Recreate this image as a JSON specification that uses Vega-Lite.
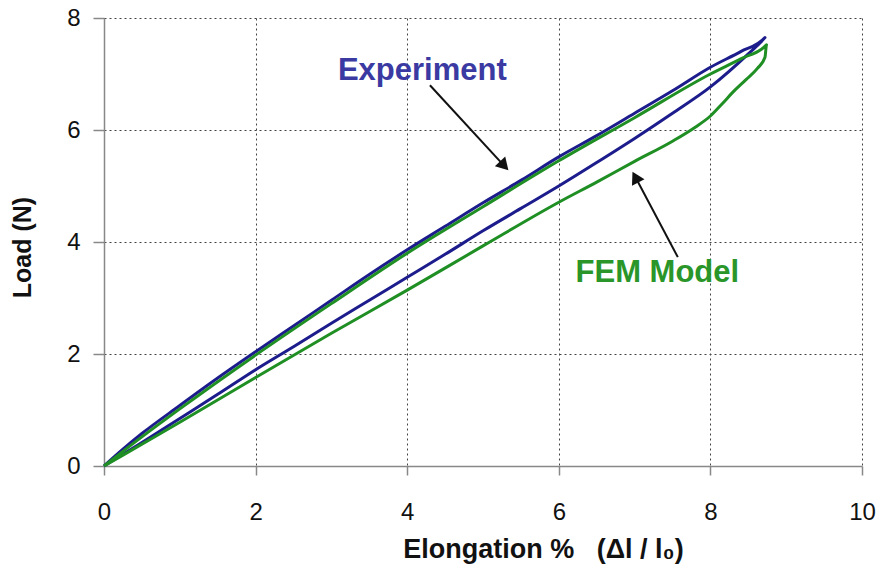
{
  "$schema": "https://vega.github.io/schema/vega-lite/v6.json",
  "autosize": "none",
  "width": 758,
  "height": 448,
  "padding": {"left": 104, "top": 18, "right": 20, "bottom": 112},
  "background": "white",
  "config": {"view": {"stroke": null}, "font": "Liberation Sans"},
  "datasets": {
    "curves": [
      {"s": "Experiment", "i": 0, "x": 0, "y": 0},
      {"s": "Experiment", "i": 1, "x": 0.25, "y": 0.3},
      {"s": "Experiment", "i": 2, "x": 0.5, "y": 0.58},
      {"s": "Experiment", "i": 3, "x": 1, "y": 1.08},
      {"s": "Experiment", "i": 4, "x": 1.5, "y": 1.57},
      {"s": "Experiment", "i": 5, "x": 2, "y": 2.04},
      {"s": "Experiment", "i": 6, "x": 2.5, "y": 2.5},
      {"s": "Experiment", "i": 7, "x": 3, "y": 2.96},
      {"s": "Experiment", "i": 8, "x": 3.5, "y": 3.42},
      {"s": "Experiment", "i": 9, "x": 4, "y": 3.86},
      {"s": "Experiment", "i": 10, "x": 4.5, "y": 4.28},
      {"s": "Experiment", "i": 11, "x": 5, "y": 4.7},
      {"s": "Experiment", "i": 12, "x": 5.5, "y": 5.1},
      {"s": "Experiment", "i": 13, "x": 6, "y": 5.52},
      {"s": "Experiment", "i": 14, "x": 6.5, "y": 5.9},
      {"s": "Experiment", "i": 15, "x": 7, "y": 6.3},
      {"s": "Experiment", "i": 16, "x": 7.5, "y": 6.7},
      {"s": "Experiment", "i": 17, "x": 8, "y": 7.12},
      {"s": "Experiment", "i": 18, "x": 8.4, "y": 7.4},
      {"s": "Experiment", "i": 19, "x": 8.72, "y": 7.65},
      {"s": "Experiment", "i": 20, "x": 8.5, "y": 7.36},
      {"s": "Experiment", "i": 21, "x": 8, "y": 6.77},
      {"s": "Experiment", "i": 22, "x": 7.5, "y": 6.3},
      {"s": "Experiment", "i": 23, "x": 7, "y": 5.85},
      {"s": "Experiment", "i": 24, "x": 6.5, "y": 5.42},
      {"s": "Experiment", "i": 25, "x": 6, "y": 5.0},
      {"s": "Experiment", "i": 26, "x": 5.5, "y": 4.6},
      {"s": "Experiment", "i": 27, "x": 5, "y": 4.2},
      {"s": "Experiment", "i": 28, "x": 4.5, "y": 3.78},
      {"s": "Experiment", "i": 29, "x": 4, "y": 3.37},
      {"s": "Experiment", "i": 30, "x": 3.5, "y": 2.96},
      {"s": "Experiment", "i": 31, "x": 3, "y": 2.55},
      {"s": "Experiment", "i": 32, "x": 2.5, "y": 2.13},
      {"s": "Experiment", "i": 33, "x": 2, "y": 1.72},
      {"s": "Experiment", "i": 34, "x": 1.5, "y": 1.28},
      {"s": "Experiment", "i": 35, "x": 1, "y": 0.85},
      {"s": "Experiment", "i": 36, "x": 0.5, "y": 0.42},
      {"s": "Experiment", "i": 37, "x": 0, "y": 0},
      {"s": "FEM", "i": 0, "x": 0, "y": 0},
      {"s": "FEM", "i": 1, "x": 0.5, "y": 0.52},
      {"s": "FEM", "i": 2, "x": 1, "y": 1.02},
      {"s": "FEM", "i": 3, "x": 2, "y": 1.98},
      {"s": "FEM", "i": 4, "x": 3, "y": 2.9},
      {"s": "FEM", "i": 5, "x": 4, "y": 3.8},
      {"s": "FEM", "i": 6, "x": 5, "y": 4.63},
      {"s": "FEM", "i": 7, "x": 6, "y": 5.45},
      {"s": "FEM", "i": 8, "x": 7, "y": 6.22},
      {"s": "FEM", "i": 9, "x": 8, "y": 7.0},
      {"s": "FEM", "i": 10, "x": 8.4, "y": 7.27},
      {"s": "FEM", "i": 11, "x": 8.74, "y": 7.52},
      {"s": "FEM", "i": 12, "x": 8.72, "y": 7.3},
      {"s": "FEM", "i": 13, "x": 8.62, "y": 7.1},
      {"s": "FEM", "i": 14, "x": 8.47, "y": 6.9},
      {"s": "FEM", "i": 15, "x": 8.3, "y": 6.68},
      {"s": "FEM", "i": 16, "x": 8.15, "y": 6.46},
      {"s": "FEM", "i": 17, "x": 8, "y": 6.25},
      {"s": "FEM", "i": 18, "x": 7.8, "y": 6.05},
      {"s": "FEM", "i": 19, "x": 7.5, "y": 5.8},
      {"s": "FEM", "i": 20, "x": 7, "y": 5.44},
      {"s": "FEM", "i": 21, "x": 6.5, "y": 5.07},
      {"s": "FEM", "i": 22, "x": 6, "y": 4.71},
      {"s": "FEM", "i": 23, "x": 5, "y": 3.93},
      {"s": "FEM", "i": 24, "x": 4, "y": 3.14},
      {"s": "FEM", "i": 25, "x": 3, "y": 2.37},
      {"s": "FEM", "i": 26, "x": 2, "y": 1.58},
      {"s": "FEM", "i": 27, "x": 1, "y": 0.78},
      {"s": "FEM", "i": 28, "x": 0.5, "y": 0.39},
      {"s": "FEM", "i": 29, "x": 0, "y": 0}
    ],
    "labels": [
      {"t": "Experiment", "x": 4.2, "y": 7.05, "c": "#3a3aa2"},
      {"t": "FEM Model", "x": 7.3, "y": 3.45, "c": "#2a962a"}
    ],
    "arrows": [
      {"x": 4.3, "y": 6.8, "x2": 5.28, "y2": 5.36, "a": 137},
      {"x": 7.57, "y": 3.73, "x2": 7.01, "y2": 5.16, "a": 332}
    ]
  },
  "layer": [
    {
      "data": {"name": "curves"},
      "mark": {"type": "line", "strokeWidth": 3, "strokeJoin": "round", "interpolate": "monotone"},
      "encoding": {
        "x": {
          "field": "x", "type": "quantitative",
          "scale": {"domain": [0, 10], "nice": false, "zero": false},
          "axis": {
            "values": [0, 2, 4, 6, 8, 10], "format": "d",
            "title": "Elongation %\u00a0\u00a0 (Δl / l₀)",
            "titleFont": "Liberation Sans", "titleFontSize": 27, "titleFontWeight": "bold", "titleColor": "#111",
            "titleX": 439, "titleY": 83, "titleAlign": "center", "titleBaseline": "middle",
            "labelFont": "Liberation Sans", "labelFontSize": 24, "labelColor": "#111", "labelPadding": 25,
            "labelFlush": false,
            "domainColor": "#888", "domainWidth": 1.5,
            "tickColor": "#888", "tickSize": 9, "tickWidth": 1.5,
            "grid": true, "gridDash": [2, 3], "gridColor": "#444", "gridWidth": 1
          }
        },
        "y": {
          "field": "y", "type": "quantitative",
          "scale": {"domain": [0, 8], "nice": false, "zero": false},
          "axis": {
            "values": [0, 2, 4, 6, 8], "format": "d",
            "title": "Load (N)",
            "titleFont": "Liberation Sans", "titleFontSize": 25, "titleFontWeight": "bold", "titleColor": "#111",
            "titleX": -82, "titleY": 229, "titleAlign": "center", "titleBaseline": "middle", "titleAngle": -90,
            "labelFont": "Liberation Sans", "labelFontSize": 24, "labelColor": "#111", "labelPadding": 13,
            "labelFlush": false,
            "domainColor": "#888", "domainWidth": 1.5,
            "tickColor": "#888", "tickSize": 11, "tickWidth": 1.5,
            "grid": true, "gridDash": [2, 3], "gridColor": "#444", "gridWidth": 1
          }
        },
        "detail": {"field": "s"},
        "order": {"field": "i", "type": "quantitative"},
        "color": {
          "field": "s", "type": "nominal",
          "scale": {"domain": ["Experiment", "FEM"], "range": ["#1c1c8c", "#1f8f24"]},
          "legend": null
        }
      }
    },
    {
      "data": {"name": "arrows"},
      "mark": {"type": "rule", "color": "#111", "strokeWidth": 2},
      "encoding": {
        "x": {"field": "x", "type": "quantitative"},
        "y": {"field": "y", "type": "quantitative"},
        "x2": {"field": "x2"},
        "y2": {"field": "y2"}
      }
    },
    {
      "data": {"name": "arrows"},
      "mark": {"type": "point", "shape": "triangle-up", "filled": true, "color": "#111", "opacity": 1, "size": 200},
      "encoding": {
        "x": {"field": "x2", "type": "quantitative"},
        "y": {"field": "y2", "type": "quantitative"},
        "angle": {"field": "a", "type": "quantitative", "scale": null}
      }
    },
    {
      "data": {"name": "labels"},
      "mark": {"type": "text", "font": "Liberation Sans", "fontSize": 31, "fontWeight": "bold", "align": "center", "baseline": "middle"},
      "encoding": {
        "x": {"field": "x", "type": "quantitative"},
        "y": {"field": "y", "type": "quantitative"},
        "text": {"field": "t"},
        "color": {"field": "c", "type": "nominal", "scale": null}
      }
    }
  ]
}
